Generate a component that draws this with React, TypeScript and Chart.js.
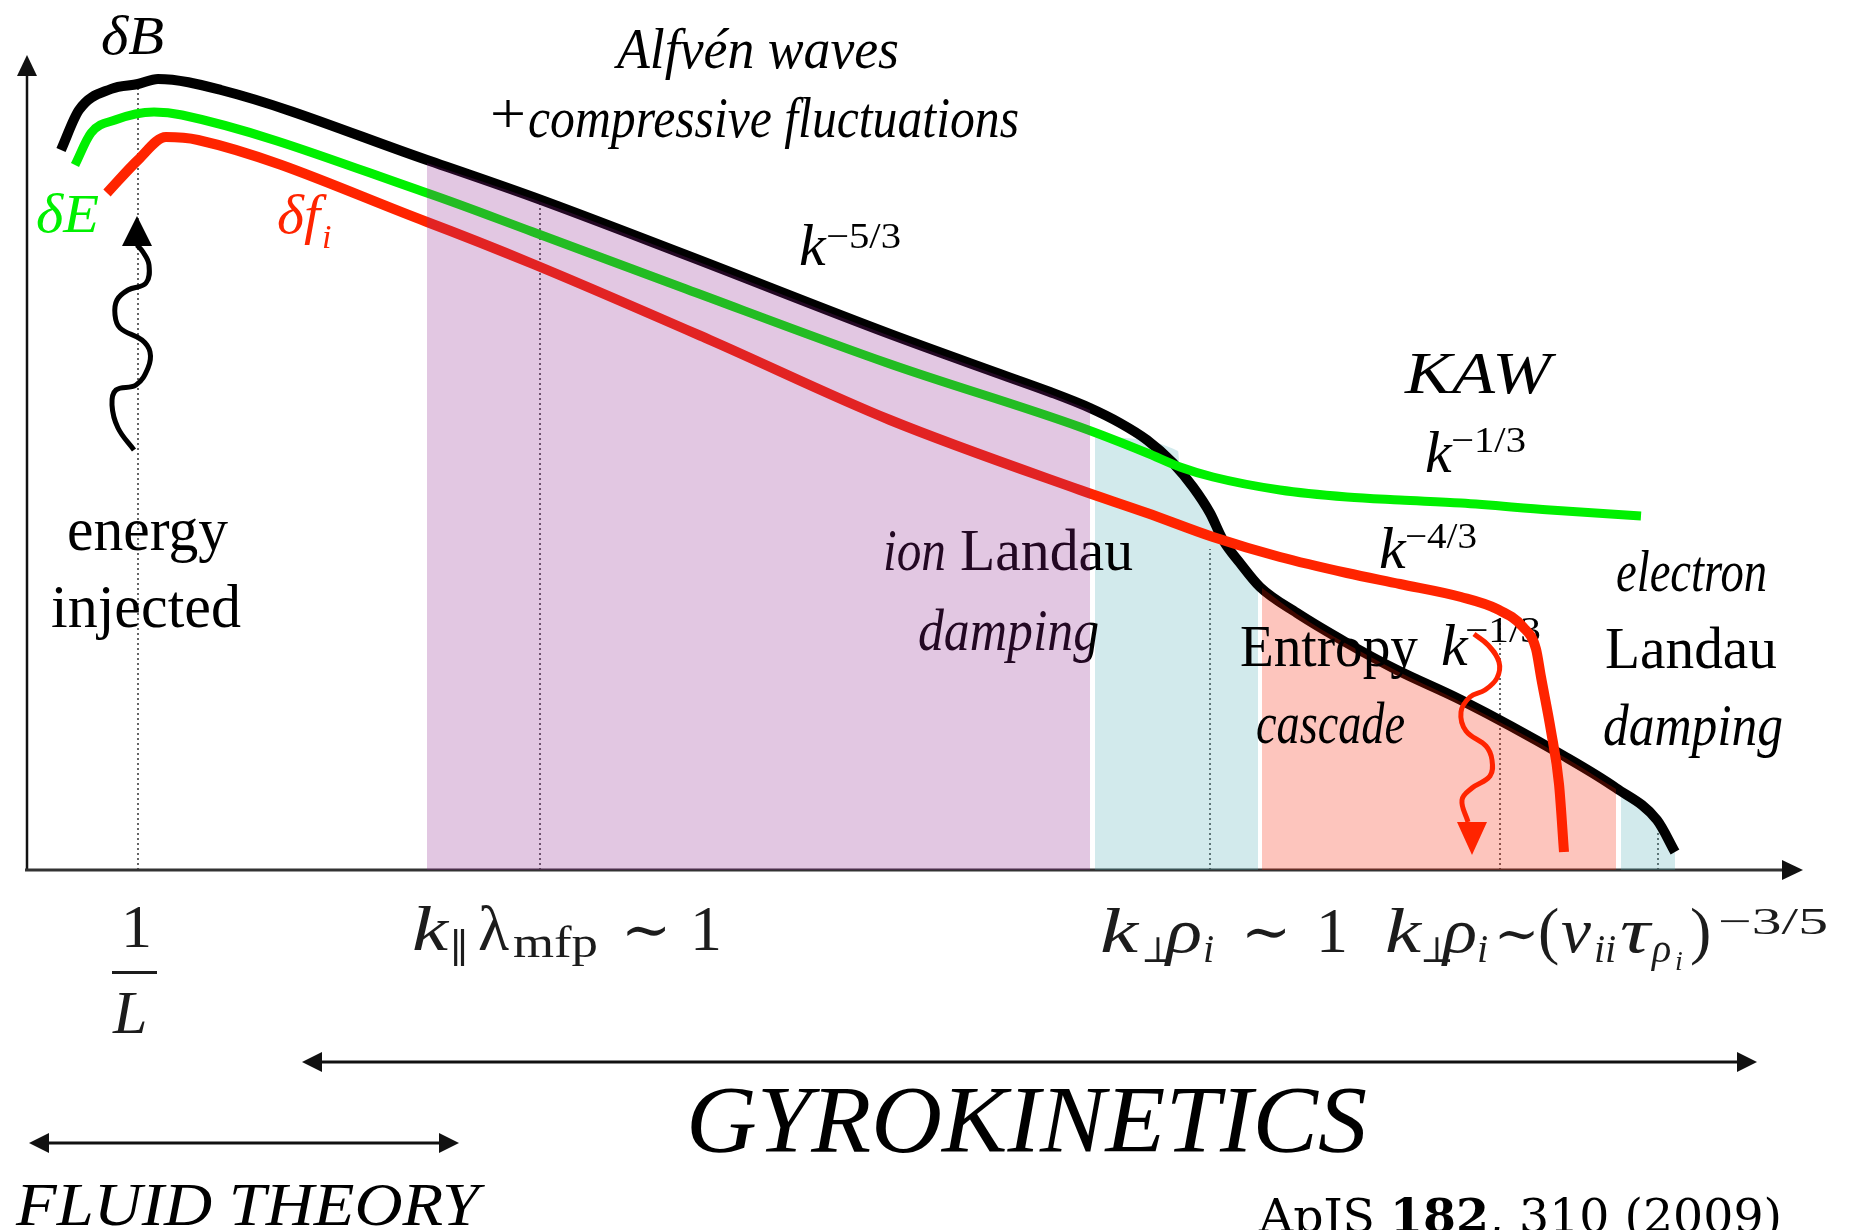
import React, { useEffect, useRef } from "react";
import { Chart, registerables } from "chart.js";

Chart.register(...registerables);

// ---- spectra: wavenumber position k and spectral level above the k-axis ----
const DB_K = [61, 79, 111, 138, 158, 221, 427, 533, 686, 890, 1000, 1050, 1090, 1120, 1147, 1173, 1193, 1210, 1223, 1240, 1260, 1297, 1347, 1397, 1461, 1564, 1616, 1657, 1675];
const DB_LEVEL = [720, 760, 781, 786, 791, 780, 710, 673, 615, 536, 496, 478, 462, 447, 430, 407, 383, 357, 330, 307, 283, 257, 227, 200, 170, 114, 82, 50, 18];

const DE_K = [75, 91, 115, 154, 182, 427, 533, 686, 890, 1080, 1147, 1180, 1213, 1280, 1347, 1400, 1461, 1550, 1641];
const DE_LEVEL = [705, 737, 750, 758, 755, 677, 638, 581, 506, 443, 417, 403, 393, 380, 373, 370, 367, 360, 354];

const DF_K = [107, 138, 166, 198, 427, 533, 710, 890, 1080, 1147, 1213, 1280, 1347, 1400, 1461, 1497, 1523, 1536, 1541, 1551, 1559, 1564];
const DF_LEVEL = [677, 710, 733, 730, 648, 606, 530, 450, 380, 357, 333, 313, 297, 286, 273, 261, 243, 221, 193, 139, 86, 18];

// ---- shaded ranges (upper edge of each band) ----
const ION_K = [427, 533, 686, 890, 1000, 1050, 1090];
const ION_TOP = [707, 671, 613, 534, 494, 476, 460];
const KAW_K = [1095, 1178, 1180, 1193, 1210, 1223, 1240, 1258];
const KAW_TOP = [433, 419, 400, 381, 355, 329, 306, 284];
const ENT_K = [1262, 1297, 1347, 1397, 1461, 1564, 1616];
const ENT_TOP = [282, 256, 226, 199, 168, 113, 81];
const ELD_K = [1621, 1657, 1675];
const ELD_TOP = [78, 49, 18];

// ---- wavy arrows: energy injection and entropy cascade ----
const INJ_K = [134, 118, 112, 116, 136, 148, 150, 142, 120, 115, 117, 128, 146, 149, 143, 137];
const INJ_LEVEL = [420, 442, 465, 480, 485, 502, 518, 530, 542, 555, 570, 580, 587, 605, 618, 625];
const CAS_K = [1474, 1488, 1499, 1497, 1485, 1470, 1461, 1466, 1486, 1492, 1490, 1472, 1462, 1468];
const CAS_LEVEL = [236, 225, 208, 192, 180, 173, 158, 139, 124, 110, 94, 82, 70, 48];

// ---- dotted markers at characteristic scales ----
const MARK_K = [138, 540, 1210, 1500, 1658];
const MARK_TOP = [782, 666, 321, 257, 39];

const SERIF = '"Liberation Serif", "DejaVu Serif", serif';
const GREEN = "rgb(0,240,0)";
const RED = "rgb(255,36,0)";
const MATH = "#1c1c1c";

const pts = (ks: number[], ls: number[]) => ks.map((k, i) => ({ x: k, y: ls[i] }));

function txt(
  ctx: CanvasRenderingContext2D,
  s: string,
  x: number,
  y: number,
  size: number,
  style: string,
  width = 0,
  color = "#000",
  family = SERIF
) {
  const it = style.includes("i") ? "italic " : "";
  const bd = style.includes("b") ? "bold " : "";
  ctx.font = `${it}${bd}${size}px ${family}`;
  ctx.fillStyle = color;
  ctx.textAlign = "left";
  ctx.textBaseline = "alphabetic";
  const w0 = ctx.measureText(s).width || 1;
  ctx.save();
  ctx.translate(x, y);
  if (width) ctx.scale(width / w0, 1);
  ctx.fillText(s, 0, 0);
  ctx.restore();
}

function head(ctx: CanvasRenderingContext2D, x: number, y: number, dx: number, dy: number, len: number, half: number, color: string) {
  // tip at (x,y), pointing along (dx,dy)
  const bx = x - dx * len, by = y - dy * len;
  ctx.beginPath();
  ctx.moveTo(x, y);
  ctx.lineTo(bx - dy * half, by + dx * half);
  ctx.lineTo(bx + dy * half, by - dx * half);
  ctx.closePath();
  ctx.fillStyle = color;
  ctx.fill();
}

function doubleArrow(ctx: CanvasRenderingContext2D, x1: number, x2: number, y: number) {
  ctx.strokeStyle = "#111";
  ctx.lineWidth = 3;
  ctx.beginPath();
  ctx.moveTo(x1 + 10, y);
  ctx.lineTo(x2 - 10, y);
  ctx.stroke();
  head(ctx, x1, y, -1, 0, 20, 10, "#111");
  head(ctx, x2, y, 1, 0, 20, 10, "#111");
}

function regionLabels(ctx: CanvasRenderingContext2D) {
  txt(ctx, "δB", 101, 54, 54, "i", 63);
  txt(ctx, "δE", 36, 232, 54, "i", 63, GREEN);
  txt(ctx, "δf", 277, 233, 54, "i", 43, RED);
  txt(ctx, "i", 322, 248, 34, "i", 0, RED);

  txt(ctx, "Alfvén waves", 617, 68, 58, "i", 282);
  txt(ctx, "+", 490, 133, 56, "r", 36);
  txt(ctx, "compressive fluctuations", 528, 137, 58, "i", 491);

  txt(ctx, "k", 799, 265, 60, "i");
  txt(ctx, "−5/3", 826, 248, 36, "r", 75);

  txt(ctx, "KAW", 1405, 393, 60, "i", 146);
  txt(ctx, "k", 1425, 472, 60, "i");
  txt(ctx, "−1/3", 1451, 452, 36, "r", 75);

  txt(ctx, "k", 1379, 568, 60, "i");
  txt(ctx, "−4/3", 1405, 548, 36, "r", 72);

  txt(ctx, "Entropy", 1240, 666, 60, "r", 178);
  txt(ctx, "k", 1441, 665, 60, "i");
  txt(ctx, "−1/3", 1465, 642, 36, "r", 76);
  txt(ctx, "cascade", 1256, 743, 60, "i", 149);

  txt(ctx, "electron", 1616, 591, 60, "i", 151);
  txt(ctx, "Landau", 1605, 668, 60, "r", 172);
  txt(ctx, "damping", 1603, 745, 60, "i", 180);

  txt(ctx, "ion", 883, 570, 60, "i", 63);
  txt(ctx, "Landau", 960, 570, 60, "r", 173);
  txt(ctx, "damping", 918, 650, 60, "i", 181);

  txt(ctx, "energy", 67, 550, 62, "r", 161);
  txt(ctx, "injected", 51, 627, 62, "r", 190);
}

function scaleLabels(ctx: CanvasRenderingContext2D) {
  // 1/L
  txt(ctx, "1", 121, 947, 62, "r", 0, MATH);
  ctx.fillStyle = MATH;
  ctx.fillRect(112, 971, 45, 3);
  txt(ctx, "L", 113, 1033, 62, "i", 0, MATH);

  // k_|| lambda_mfp ~ 1
  txt(ctx, "k", 412, 950, 64, "i", 36, MATH);
  txt(ctx, "∥", 450, 962, 40, "r", 0, MATH);
  txt(ctx, "λ", 478, 950, 64, "r", 0, MATH);
  txt(ctx, "mfp", 513, 957, 44, "r", 85, MATH);
  txt(ctx, "∼", 621, 950, 60, "r", 0, MATH);
  txt(ctx, "1", 690, 950, 64, "r", 0, MATH);

  // k_perp rho_i ~ 1
  txt(ctx, "k", 1100, 952, 64, "i", 38, MATH);
  txt(ctx, "⊥", 1141, 962, 36, "r", 0, MATH);
  txt(ctx, "ρ", 1166, 952, 64, "i", 36, MATH);
  txt(ctx, "i", 1203, 962, 40, "i", 0, MATH);
  txt(ctx, "∼", 1241, 952, 60, "r", 0, MATH);
  txt(ctx, "1", 1316, 952, 64, "r", 0, MATH);

  // k_perp rho_i ~ (nu_ii tau_rho_i)^(-3/5)
  txt(ctx, "k", 1385, 952, 64, "i", 36, MATH);
  txt(ctx, "⊥", 1420, 962, 36, "r", 0, MATH);
  txt(ctx, "ρ", 1443, 952, 64, "i", 34, MATH);
  txt(ctx, "i", 1477, 962, 40, "i", 0, MATH);
  txt(ctx, "∼", 1494, 952, 54, "r", 0, MATH);
  txt(ctx, "(", 1538, 952, 64, "r", 0, MATH);
  txt(ctx, "ν", 1561, 952, 64, "i", 30, MATH);
  txt(ctx, "ii", 1594, 962, 40, "i", 0, MATH);
  txt(ctx, "τ", 1620, 952, 64, "i", 30, MATH);
  txt(ctx, "ρ", 1652, 962, 40, "i", 0, MATH);
  txt(ctx, "i", 1675, 970, 28, "i", 0, MATH);
  txt(ctx, ")", 1690, 952, 64, "r", 0, MATH);
  txt(ctx, "−3/5", 1718, 934, 38, "r", 110, MATH);

  // ranges of validity
  doubleArrow(ctx, 302, 1757, 1062);
  txt(ctx, "GYROKINETICS", 686, 1152, 96, "i", 681);
  doubleArrow(ctx, 29, 459, 1143);
  txt(ctx, "FLUID THEORY", 16, 1225, 62, "i", 463);

  // reference
  const fam = '"DejaVu Serif", serif';
  const size = 46;
  const a = "ApJS ", b = "182", c = ", 310 (2009)";
  ctx.font = `${size}px ${fam}`;
  const wa = ctx.measureText(a).width, wc = ctx.measureText(c).width;
  ctx.font = `bold ${size}px ${fam}`;
  const wb = ctx.measureText(b).width;
  const s = 523 / (wa + wb + wc);
  ctx.save();
  ctx.translate(1259, 1232);
  ctx.scale(s, 1);
  ctx.fillStyle = "#000";
  ctx.font = `${size}px ${fam}`;
  ctx.fillText(a, 0, 0);
  ctx.font = `bold ${size}px ${fam}`;
  ctx.fillText(b, wa, 0);
  ctx.font = `${size}px ${fam}`;
  ctx.fillText(c, wa + wb, 0);
  ctx.restore();
}

const overlay = {
  id: "overlay",
  beforeDatasetsDraw(chart: any) {
    const ctx: CanvasRenderingContext2D = chart.ctx;
    const xs = chart.scales.x, ys = chart.scales.y;
    const ox = xs.getPixelForValue(27), oy = ys.getPixelForValue(0);
    const topY = ys.getPixelForValue(815), endX = xs.getPixelForValue(1803);
    ctx.save();
    ctx.strokeStyle = "#111";
    ctx.lineWidth = 2.5;
    ctx.beginPath();
    ctx.moveTo(ox, oy + 1);
    ctx.lineTo(ox, topY + 16);
    ctx.stroke();
    ctx.strokeStyle = "#333";
    ctx.lineWidth = 3;
    ctx.beginPath();
    ctx.moveTo(ox - 2, oy);
    ctx.lineTo(endX - 16, oy);
    ctx.stroke();
    head(ctx, ox, topY, 0, -1, 21, 10, "#111");
    head(ctx, endX, oy, 1, 0, 21, 10, "#111");
    ctx.restore();
  },
  afterDatasetDraw(chart: any, args: any) {
    if (chart.data.datasets[args.index].label !== "entropy cascade") return;
    const ctx: CanvasRenderingContext2D = chart.ctx;
    ctx.save();
    regionLabels(ctx);
    ctx.restore();
  },
  afterDatasetsDraw(chart: any) {
    const ctx: CanvasRenderingContext2D = chart.ctx;
    const xs = chart.scales.x, ys = chart.scales.y;
    ctx.save();
    const ix = xs.getPixelForValue(INJ_K[INJ_K.length - 1]);
    const iy = ys.getPixelForValue(INJ_LEVEL[INJ_LEVEL.length - 1]);
    head(ctx, ix, iy - 29, 0, -1, 30, 15, "#000");
    const cx = xs.getPixelForValue(CAS_K[CAS_K.length - 1]);
    const cy = ys.getPixelForValue(CAS_LEVEL[CAS_LEVEL.length - 1]);
    head(ctx, cx + 4, cy + 33, 0, 1, 33, 15, RED);
    scaleLabels(ctx);
    ctx.restore();
  },
};

export default function App() {
  const ref = useRef<HTMLCanvasElement>(null);

  useEffect(() => {
    const canvas = ref.current;
    if (!canvas) return;

    const band = (label: string, ks: number[], tops: number[], color: string, order: number) => ({
      label,
      data: pts(ks, tops),
      fill: "origin",
      backgroundColor: color,
      borderColor: "rgba(0,0,0,0)",
      borderWidth: 0,
      pointRadius: 0,
      cubicInterpolationMode: "monotone",
      order,
    });
    const curve = (label: string, ks: number[], ls: number[], color: string, width: number, order: number, smooth = true) => ({
      label,
      data: pts(ks, ls),
      fill: false,
      borderColor: color,
      borderWidth: width,
      borderCapStyle: "butt",
      borderJoinStyle: "round",
      pointRadius: 0,
      ...(smooth ? { cubicInterpolationMode: "monotone" } : { tension: 0.4 }),
      order,
    });
    const markers = MARK_K.map((k, i) => ({
      label: `marker ${i}`,
      data: [{ x: k, y: 0 }, { x: k, y: MARK_TOP[i] }],
      fill: false,
      borderColor: "#333",
      borderWidth: 1.5,
      borderDash: [2, 3],
      pointRadius: 0,
      order: 30,
    }));

    const chart = new Chart(canvas, {
      type: "line",
      data: {
        datasets: [
          ...markers,
          band("kinetic Alfvén range", KAW_K, KAW_TOP, "rgba(75,170,180,0.25)", 25),
          band("electron Landau damping", ELD_K, ELD_TOP, "rgba(75,170,180,0.25)", 25),
          curve("δB", DB_K, DB_LEVEL, "#000", 10, 20),
          band("entropy cascade", ENT_K, ENT_TOP, "rgba(246,31,0,0.26)", 19),
          curve("δE", DE_K, DE_LEVEL, GREEN, 9, 18),
          curve("δf_i", DF_K, DF_LEVEL, RED, 10, 17),
          band("ion Landau damping", ION_K, ION_TOP, "rgba(138,32,138,0.25)", 16),
          curve("energy injection", INJ_K, INJ_LEVEL, "#000", 5, 15, false),
          curve("entropy transfer", CAS_K, CAS_LEVEL, RED, 5, 14, false),
        ] as any,
      },
      options: {
        animation: false,
        responsive: false,
        maintainAspectRatio: false,
        devicePixelRatio: 1,
        layout: { padding: 0 },
        events: [],
        scales: {
          x: { type: "linear", min: 0, max: 1856, display: false },
          y: { type: "linear", min: -360, max: 870, display: false },
        },
        plugins: {
          legend: { display: false },
          tooltip: { enabled: false },
        },
      } as any,
      plugins: [overlay],
    });

    return () => chart.destroy();
  }, []);

  return (
    <div style={{ position: "fixed", left: 0, top: 0, width: 1856, height: 1230, background: "#fff" }}>
      <canvas ref={ref} width={1856} height={1230} style={{ display: "block", width: 1856, height: 1230 }} />
    </div>
  );
}
